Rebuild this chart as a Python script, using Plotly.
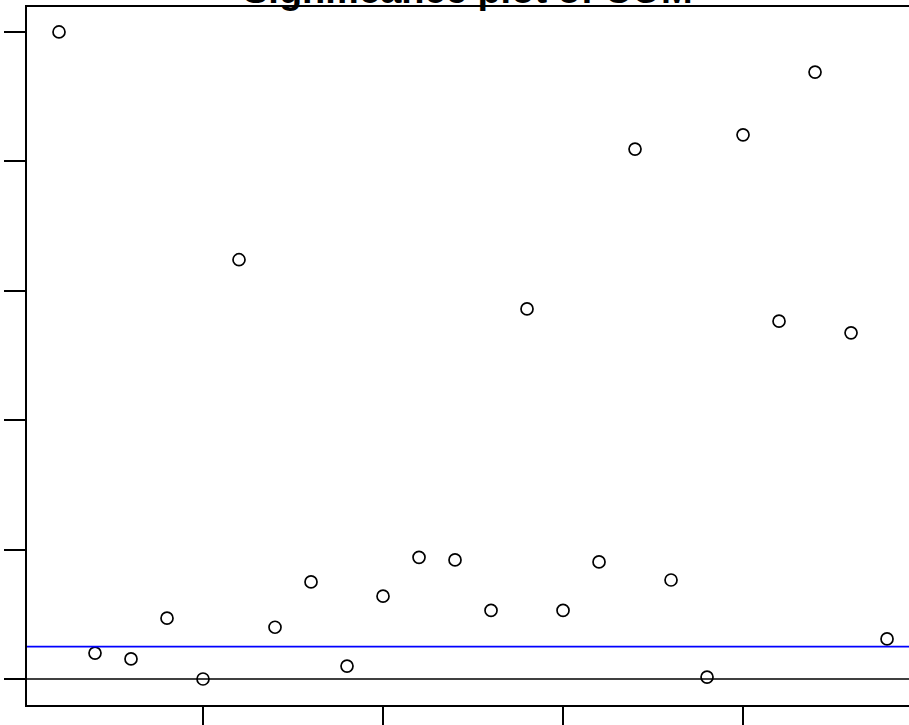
import plotly.graph_objects as go

# p-values for each COM term, in index order
index = list(range(1, 25))
p_values = [1.000, 0.040, 0.031, 0.094, 0.000, 0.648, 0.080, 0.150,
            0.020, 0.128, 0.188, 0.184, 0.106, 0.572, 0.106, 0.181,
            0.819, 0.153, 0.003, 0.841, 0.553, 0.938, 0.535, 0.062]
alpha = 0.05
y_ticks = [0, 0.2, 0.4, 0.6, 0.8, 1.0]
x_ticks = [5, 10, 15, 20]
title = "Significance plot of COM"

fig = go.Figure()
fig.add_trace(go.Scatter(
    x=index, y=p_values, mode="markers",
    marker=dict(symbol="circle-open", size=12, color="black",
                line=dict(width=1.7, color="black")),
    showlegend=False, cliponaxis=False,
))

# reference lines: zero and significance level
fig.add_hline(y=0, line=dict(color="black", width=1.6))
fig.add_hline(y=alpha, line=dict(color="#0000ff", width=1.8))

fig.update_xaxes(
    range=[0.111, 24.61], showgrid=False, zeroline=False, automargin=False,
    showline=True, linecolor="black", linewidth=1.6, mirror=True,
    tickmode="array", tickvals=x_ticks, ticks="outside", ticklen=20,
    tickwidth=1.6, tickcolor="black", showticklabels=False,
)
fig.update_yaxes(
    range=[-0.0402, 1.0386], showgrid=False, zeroline=False, automargin=False,
    showline=True, linecolor="black", linewidth=1.6, mirror=False,
    tickmode="array", tickvals=y_ticks, ticks="outside", ticklen=21,
    tickwidth=1.6, tickcolor="black", showticklabels=False,
)

fig.add_annotation(
    text="<b>" + title + "</b>", xref="paper", yref="paper",
    x=0.5, y=1, xanchor="center", yanchor="bottom", yshift=-6,
    showarrow=False,
    font=dict(family="Liberation Sans, Arial, sans-serif", size=38, color="black"),
)

fig.update_layout(
    width=909, height=725,
    margin=dict(l=27, r=0, t=7, b=20, pad=0, autoexpand=False),
    plot_bgcolor="white", paper_bgcolor="white",
)

fig.write_html("out.html")
